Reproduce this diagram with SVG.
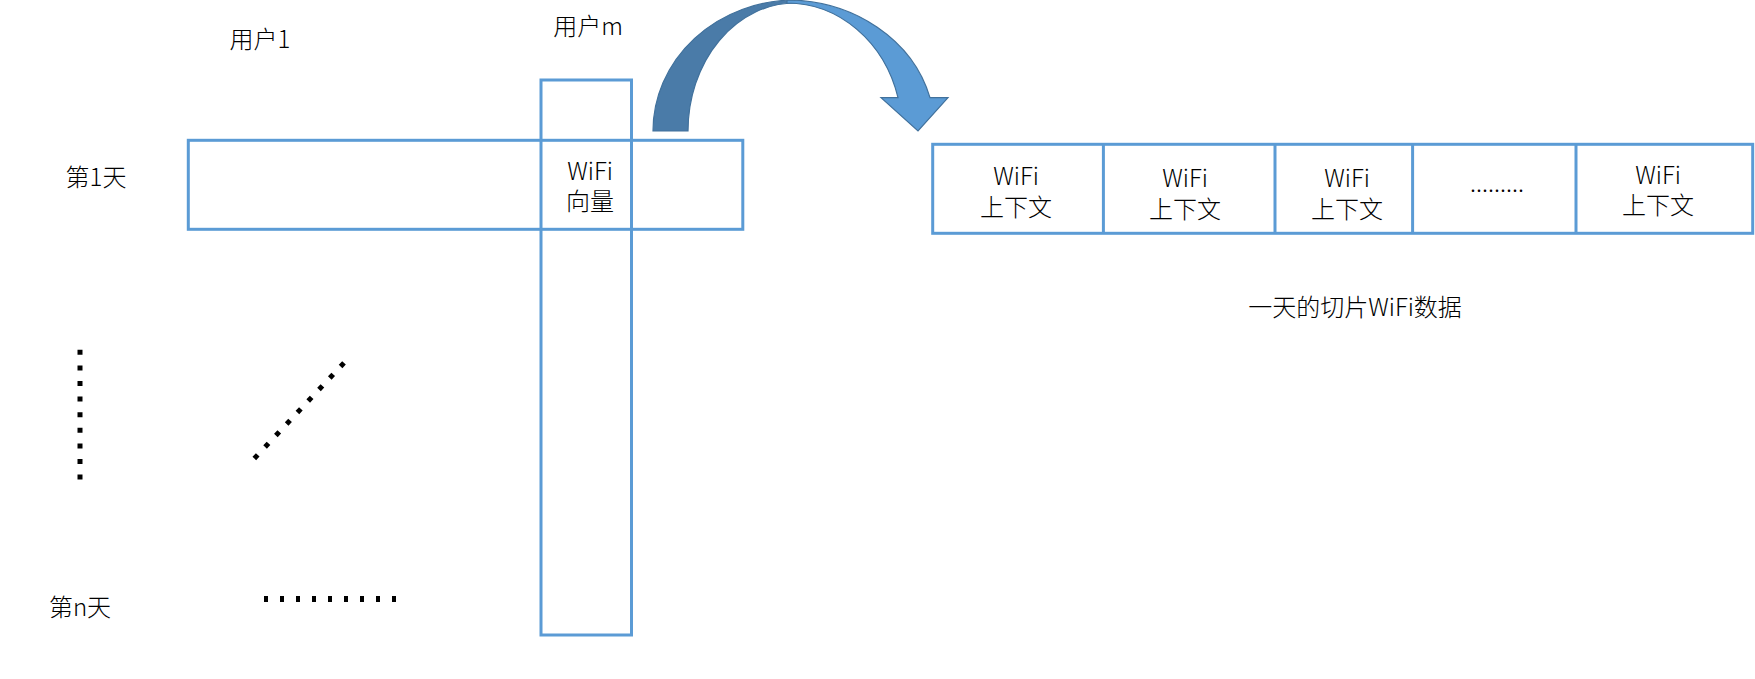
<svg xmlns="http://www.w3.org/2000/svg" width="1755" height="679" viewBox="0 0 1755 679">
<style>
.box{fill:none;stroke:#5B9BD5;stroke-width:3}
.t{font-family:"Noto Sans CJK SC","Liberation Sans",sans-serif;font-size:24px;font-weight:300;fill:#000;text-anchor:middle}
.dots{stroke:#000;fill:none;stroke-linecap:butt}
</style>
<rect width="1755" height="679" fill="#fff"/>
<g id="labels">
<text class="t" x="260" y="48">用户1</text>
<text class="t" x="588" y="35">用户m</text>
<text class="t" x="96" y="186">第1天</text>
<text class="t" x="80" y="616">第n天</text>
<text class="t" x="1355" y="316">一天的切片WiFi数据</text>
</g>
<g id="matrix">
<rect class="box" x="188.3" y="140.3" width="554.5" height="89"/>
<rect class="box" x="541" y="80" width="90.5" height="555"/>
<text class="t" x="590" y="180">WiFi</text>
<text class="t" x="590" y="210">向量</text>
</g>
<g id="dots">
<line class="dots" x1="80" y1="349.8" x2="80" y2="480" stroke-width="5" stroke-dasharray="5 10.6"/>
<line class="dots" x1="254.3" y1="458.5" x2="344" y2="362.9" stroke-width="5" stroke-dasharray="5 10.76"/>
<line class="dots" x1="264" y1="599" x2="396" y2="599" stroke-width="6" stroke-dasharray="4 12"/>
</g>
<g id="connectors">
<path d="M653,131 A142,131 0 0 1 795,0 L795,3 A107,128 0 0 0 688,131 Z" fill="#4A7BA8" stroke="#41719C" stroke-width="1.2"/>
<path d="M787,0 A148,131 0 0 1 930,97.7 L948,97.7 L918,131 L881,97.7 L898,97.7 A115,128 0 0 0 787,3 Z" fill="#5B9BD5" stroke="#41719C" stroke-width="1.2"/>
</g>
<g id="slice">
<rect class="box" x="932.7" y="144.3" width="820" height="89"/>
<line class="box" x1="1103.4" y1="144.3" x2="1103.4" y2="233.3"/>
<line class="box" x1="1275" y1="144.3" x2="1275" y2="233.3"/>
<line class="box" x1="1412.6" y1="144.3" x2="1412.6" y2="233.3"/>
<line class="box" x1="1576" y1="144.3" x2="1576" y2="233.3"/>
<text class="t" x="1016" y="185">WiFi</text>
<text class="t" x="1016" y="216">上下文</text>
<text class="t" x="1185" y="187">WiFi</text>
<text class="t" x="1185" y="218">上下文</text>
<text class="t" x="1347" y="187">WiFi</text>
<text class="t" x="1347" y="218">上下文</text>
<text class="t" x="1497" y="192">.........</text>
<text class="t" x="1658" y="184">WiFi</text>
<text class="t" x="1658" y="214">上下文</text>
</g>
</svg>
